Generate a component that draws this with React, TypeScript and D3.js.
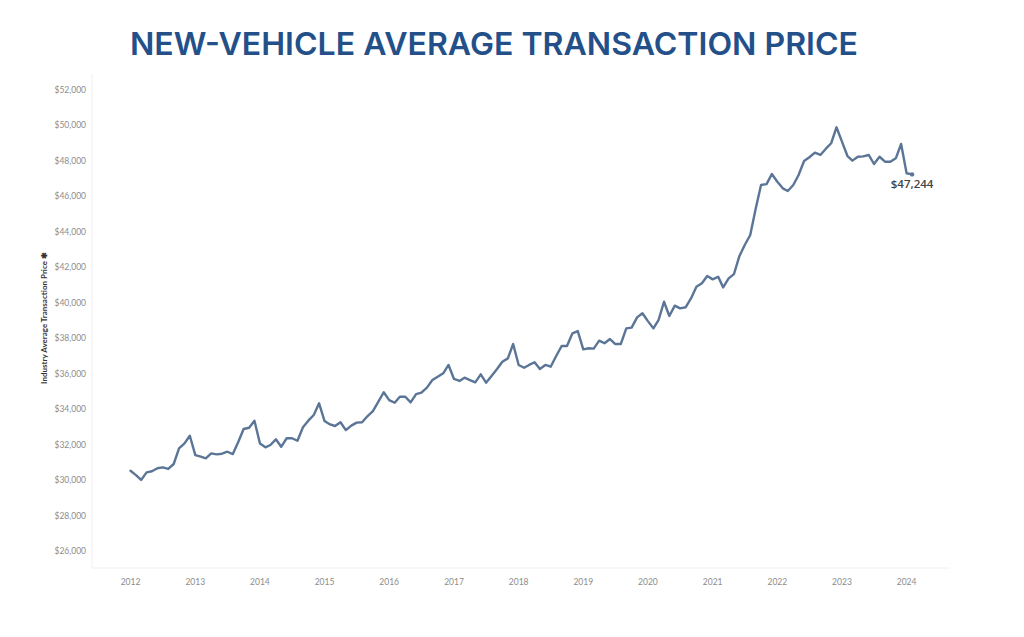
import React from "react";
import * as d3 from "d3";

const years = [2012, 2013, 2014, 2015, 2016, 2017, 2018, 2019, 2020, 2021, 2022, 2023, 2024];
const yTicks = [26000, 28000, 30000, 32000, 34000, 36000, 38000, 40000, 42000, 44000, 46000, 48000, 50000, 52000];

const p2012 = [30550, 30300, 30030, 30460, 30520, 30690, 30740, 30650, 30930, 31810, 32090, 32520];
const p2013 = [31430, 31340, 31250, 31530, 31470, 31510, 31620, 31490, 32180, 32900, 32970, 33370];
const p2014 = [32090, 31870, 32000, 32320, 31900, 32380, 32380, 32240, 33000, 33370, 33690, 34350];
const p2015 = [33350, 33160, 33070, 33280, 32840, 33090, 33260, 33280, 33630, 33910, 34440, 34970];
const p2016 = [34530, 34380, 34720, 34720, 34400, 34870, 34950, 35230, 35660, 35850, 36040, 36510];
const p2017 = [35720, 35610, 35790, 35660, 35530, 35980, 35510, 35890, 36280, 36690, 36880, 37690];
const p2018 = [36510, 36350, 36510, 36660, 36280, 36510, 36410, 37010, 37580, 37580, 38290, 38420];
const p2019 = [37390, 37450, 37430, 37880, 37730, 37970, 37690, 37690, 38570, 38610, 39190, 39420];
const p2020 = [38980, 38570, 39040, 40070, 39270, 39850, 39700, 39760, 40270, 40920, 41110, 41520];
const p2021 = [41330, 41480, 40880, 41390, 41630, 42650, 43270, 43830, 45330, 46650, 46700, 47270];
const p2022 = [46830, 46460, 46310, 46650, 47210, 48000, 48210, 48470, 48340, 48680, 49000, 49900];
const p2023 = [49090, 48280, 48020, 48240, 48260, 48340, 47830, 48240, 47960, 47960, 48150, 48960];
const p2024 = [47310, 47244];

const yearly = [p2012, p2013, p2014, p2015, p2016, p2017, p2018, p2019, p2020, p2021, p2022, p2023, p2024];

type Pt = { date: Date; value: number };
const series: Pt[] = [];
yearly.forEach((arr, yi) => {
  arr.forEach((v, m) => series.push({ date: new Date(years[yi], m, 1), value: v }));
});

const W = 1024;
const H = 637;

export default function App() {
  const x = d3
    .scaleTime()
    .domain([new Date(2012, 0, 1), new Date(2024, 0, 1)])
    .range([130.5, 906.6]);
  const y = d3.scaleLinear().domain([25000, 53000]).range([569.25, 72.25]);
  const line = d3
    .line<Pt>()
    .x((d) => x(d.date))
    .y((d) => y(d.value));
  const fmt = d3.format("$,");
  const last = series[series.length - 1];
  const plotLeft = 92;
  const plotRight = 950;
  const plotTop = 74;
  const plotBottom = 568;

  return (
    <svg
      width={W}
      height={H}
      style={{ position: "absolute", left: 0, top: 0, background: "#fff" }}
      fontFamily="Lato, 'Open Sans', sans-serif"
    >
      <rect width={W} height={H} fill="#fff" />
      <text
        x={494}
        y={55}
        textAnchor="middle"
        fontSize={31}
        fontWeight={600}
        fill="#24508a"
        textLength={728}
        lengthAdjust="spacingAndGlyphs"
        fontFamily="Inter, 'Open Sans', sans-serif"
      >
        NEW-VEHICLE AVERAGE TRANSACTION PRICE
      </text>

      {/* frame lines */}
      <line x1={plotLeft} x2={plotLeft} y1={plotTop} y2={plotBottom} stroke="#f0f0f0" />
      <line x1={plotLeft} x2={plotRight} y1={plotBottom} y2={plotBottom} stroke="#f0f0f0" />

      {/* y ticks */}
      {yTicks.map((t) => (
        <text
          key={t}
          x={86}
          y={y(t)}
          dy="0.35em"
          textAnchor="end"
          fontSize={8.5}
          fill="#8c8c8c"
        >
          {fmt(t)}
        </text>
      ))}

      {/* y title */}
      <text
        transform={`translate(47,${318}) rotate(-90)`}
        textAnchor="middle"
        fontSize={8}
        fontWeight={700}
        fill="#333"
      >
        Industry Average Transaction Price ✱
      </text>

      {/* x ticks */}
      {years.map((yr) => (
        <text
          key={yr}
          x={x(new Date(yr, 0, 1))}
          y={582}
          dy="0.35em"
          textAnchor="middle"
          fontSize={8.5}
          fill="#8c8c8c"
        >
          {yr}
        </text>
      ))}

      <path
        d={line(series) || ""}
        fill="none"
        stroke="#5b7597"
        strokeWidth={2.4}
        strokeLinejoin="round"
        strokeLinecap="round"
      />
      <circle cx={x(last.date)} cy={y(last.value)} r={2.2} fill="#5b7597" />
      <text
        x={x(last.date)}
        y={y(last.value) + 14}
        textAnchor="middle"
        fontSize={11.5}
        fontWeight={600}
        fill="#444"
        fontFamily="'Open Sans', sans-serif"
      >
        {fmt(last.value)}
      </text>
    </svg>
  );
}
